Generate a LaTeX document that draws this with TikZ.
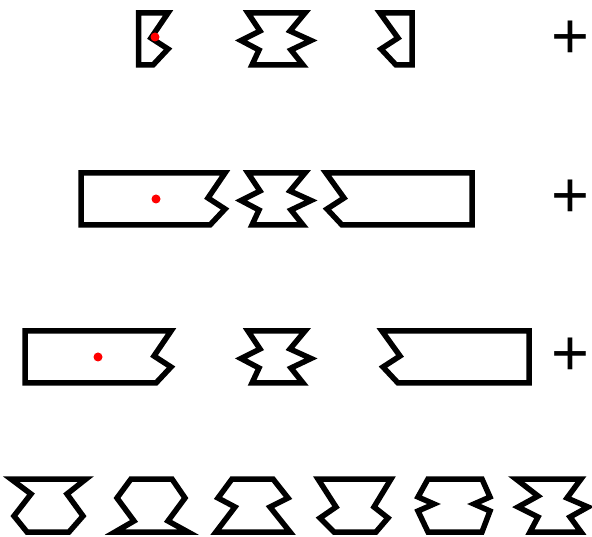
\documentclass[tikz,border=0pt]{standalone}
\usepackage{fontspec}
\setmainfont{Liberation Sans}
\usepackage{tikz}
\tikzset{
  piece/.style={
    draw=black,
    line width=5.5pt,
    line join=miter
  },
  pin/.style={
    circle,
    fill=red,
    inner sep=0pt,
    minimum size=9pt
  },
  plus/.style={
    inner sep=0pt,
    font=\fontsize{65}{65}\selectfont
  }
}

\begin{document}
\begin{tikzpicture}[x=1pt,y=-1pt]
\useasboundingbox (0,0) rectangle (592,537);
% row 1: the three parts apart
\draw[piece] (138.5,13) -- (168,13) -- ++(-17,25) -- ++(17,11) -- ++(-15,16) -- (138.5,65) -- cycle;
\draw[piece] (248,13) -- (305,13) -- (290,31) -- (311,40.5) -- (291,50) -- (303,65) -- (252,65) -- (259,50) -- (241,40.5) -- (260,31) -- cycle;
\draw[piece] (380,13) -- (412,13) -- (412,65) -- (396,65) -- ++(-15,-16) -- ++(17,-11) -- cycle;
\node[pin] (d1) at (155,37) {};
\node[plus] (s1) at (570,40) {+};
% row 2: long ends pushed together
\draw[piece] (81,173) -- (225,173) -- ++(-17,25) -- ++(17,11) -- ++(-15,16) -- (81,225) -- cycle;
\draw[piece,shift={(0,160)}] (248,13) -- (305,13) -- (290,31) -- (311,40.5) -- (291,50) -- (303,65) -- (252,65) -- (259,50) -- (241,40.5) -- (260,31) -- cycle;
\draw[piece] (326,173) -- (472,173) -- (472,225) -- (342,225) -- ++(-15,-16) -- ++(17,-11) -- cycle;
\node[pin] (d2) at (156,199) {};
\node[plus] (s2) at (570,199) {+};
% row 3: long ends apart
\draw[piece] (25,331) -- (171,331) -- ++(-17,25) -- ++(17,11) -- ++(-15,16) -- (25,383) -- cycle;
\draw[piece,shift={(0,318)}] (248,13) -- (305,13) -- (290,31) -- (311,40.5) -- (291,50) -- (303,65) -- (252,65) -- (259,50) -- (241,40.5) -- (260,31) -- cycle;
\draw[piece] (382,331) -- (529,331) -- (529,383) -- (398,383) -- ++(-15,-16) -- ++(17,-11) -- cycle;
\node[pin] (d3) at (98,357) {};
\node[plus] (s3) at (570,357) {+};
% row 4: other cut shapes
\draw[piece] (11,479) -- (86,479) -- (67,494) -- (83,516) -- (69,532) -- (27,532) -- (14,516) -- (31,494) -- cycle;
\draw[piece] (131,479) -- (172,479) -- (185,498) -- (168,521) -- (188,532) -- (115,532) -- (134,521) -- (117,498) -- cycle;
\draw[piece] (232,479) -- (273,479) -- (288,498) -- (270,507) -- (290,532) -- (216,532) -- (235,507) -- (218,498) -- cycle;
\draw[piece] (318,479) -- (391,479) -- (374,507) -- (388,518) -- (376,532) -- (334,532) -- (320,518) -- (336,507) -- cycle;
\draw[piece] (428,479) -- (482,479) -- (490,497) -- (474,504) -- (490,511) -- (482,532) -- (428,532) -- (418,511) -- (434,504) -- (418,497) -- cycle;
\draw[piece] (516,479) -- (581,479) -- (567,498) -- (588,507) -- (570,517) -- (581,532) -- (530,532) -- (538,517) -- (518,507) -- (538,496) -- cycle;
\end{tikzpicture}
\end{document}
